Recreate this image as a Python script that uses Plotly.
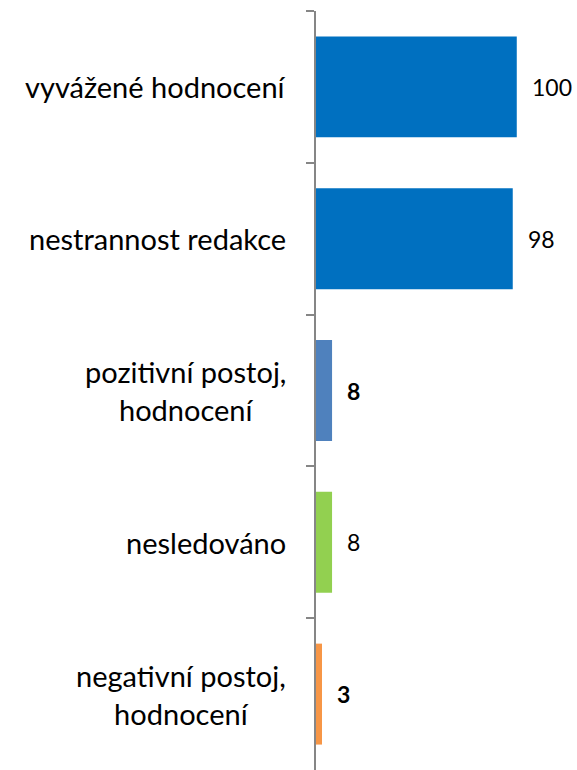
import plotly.graph_objects as go

categories = ["vyvážené hodnocení", "nestrannost redakce", "pozitivní postoj,<br>hodnocení",
              "nesledováno", "negativní postoj,<br>hodnocení"]
values = [100, 98, 8, 8, 3]
colors = ["#0070C0", "#0070C0", "#4F81BD", "#92D050", "#F79646"]
bold = [False, False, True, False, True]

fig = go.Figure()
fig.add_trace(go.Bar(
    y=categories, x=values, orientation="h",
    marker=dict(color=colors, line=dict(width=0)),
    hoverinfo="skip", showlegend=False,
))

# value labels to the right of each bar
for cat, val, b in zip(categories, values, bold):
    txt = f"<b>{val}</b>" if b else str(val)
    fig.add_annotation(x=val, y=cat, text=txt, showarrow=False,
                       xanchor="left", xshift=13,
                       font=dict(family="Lato", size=23, color="black"))

# category labels, centred lines, right of the box next to the axis
for cat in categories:
    fig.add_annotation(x=0, y=cat, xref="paper", text=cat, showarrow=False,
                       xanchor="right", align="center", xshift=-28,
                       font=dict(family="Lato", size=29, color="black"))

fig.update_layout(
    width=577, height=770,
    margin=dict(l=316, r=0, t=11, b=0),
    plot_bgcolor="white", paper_bgcolor="white",
    bargap=0.335,
    xaxis=dict(visible=False, range=[0, 130]),
    yaxis=dict(type="category", autorange="reversed", showticklabels=False,
               showline=True, linecolor="#868686", linewidth=2,
               ticks="outside", ticklen=8, tickcolor="#868686", tickwidth=2,
               tickson="boundaries", showgrid=False, zeroline=False),
)

fig.write_html("out.html", config={"displayModeBar": False},
               post_script="document.body.style.margin='0px';")
